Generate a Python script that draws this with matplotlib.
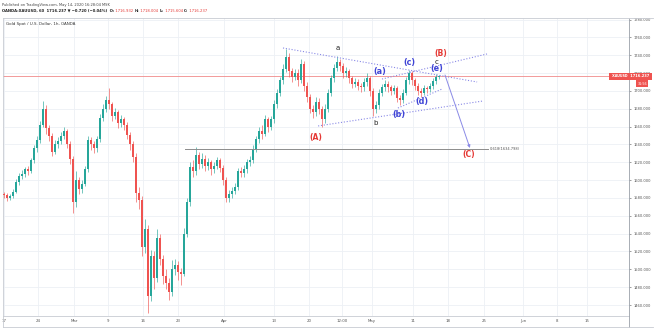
import matplotlib
matplotlib.use("Agg")
import matplotlib.pyplot as plt
from matplotlib.lines import Line2D
import matplotlib.transforms as mtransforms

# ---------------- DATA ----------------
first_open = 1584.0
closes = [1583, 1580, 1582, 1587, 1598, 1605, 1607, 1612, 1610, 1622,
          1636, 1645, 1662, 1680, 1658, 1650, 1632, 1641, 1644, 1650,
          1655, 1641, 1624, 1575, 1600, 1590, 1596, 1612, 1645, 1640,
          1636, 1646, 1670, 1680, 1690, 1685, 1672, 1676, 1664, 1668,
          1662, 1651, 1640, 1626, 1585, 1578, 1525, 1545, 1470, 1515,
          1490, 1535, 1512, 1492, 1485, 1475, 1500, 1505, 1497, 1495,
          1540, 1575, 1615, 1610, 1628, 1618, 1624, 1616, 1620, 1612,
          1616, 1622, 1614, 1600, 1580, 1584, 1588, 1592, 1610, 1608,
          1612, 1620, 1622, 1635, 1646, 1655, 1652, 1668, 1660, 1668,
          1685, 1698, 1712, 1725, 1738, 1722, 1716, 1720, 1712, 1730,
          1706, 1693, 1680, 1676, 1688, 1680, 1668, 1680, 1698, 1714,
          1726, 1732, 1728, 1720, 1722, 1714, 1708, 1710, 1706, 1704,
          1710, 1714, 1700, 1680, 1684, 1698, 1704, 1708, 1704, 1700,
          1703, 1692, 1690, 1698, 1712, 1720, 1712, 1706, 1700, 1698,
          1703, 1702, 1705, 1711, 1716, 1716.237]
highs = [1587, 1585, 1584, 1590, 1601, 1608, 1611, 1615, 1616, 1625,
         1639, 1649, 1666, 1689, 1684, 1662, 1653, 1645, 1648, 1654,
         1660, 1657, 1644, 1627, 1610, 1604, 1600, 1616, 1650, 1648,
         1644, 1650, 1674, 1685, 1694, 1703, 1688, 1681, 1679, 1673,
         1671, 1665, 1654, 1644, 1630, 1592, 1582, 1556, 1550, 1522,
         1520, 1545, 1540, 1516, 1500, 1490, 1510, 1512, 1509, 1502,
         1546, 1580, 1620, 1622, 1637, 1632, 1630, 1628, 1625, 1623,
         1620, 1626, 1625, 1617, 1603, 1589, 1592, 1597, 1614, 1615,
         1617, 1624, 1627, 1639, 1650, 1660, 1662, 1673, 1671, 1672,
         1690, 1702, 1716, 1730, 1747, 1742, 1726, 1725, 1724, 1736,
         1733, 1710, 1697, 1684, 1693, 1692, 1683, 1685, 1702, 1718,
         1730, 1739, 1736, 1731, 1727, 1725, 1717, 1714, 1713, 1709,
         1714, 1720, 1717, 1703, 1689, 1702, 1708, 1712, 1711, 1707,
         1707, 1705, 1695, 1702, 1716, 1723, 1722, 1715, 1709, 1703,
         1707, 1706, 1709, 1714, 1719, 1718]
lows = [1580, 1577, 1578, 1580, 1585, 1595, 1601, 1604, 1606, 1608,
        1619, 1632, 1642, 1659, 1652, 1644, 1627, 1629, 1636, 1640,
        1646, 1636, 1618, 1563, 1570, 1584, 1586, 1593, 1609, 1634,
        1630, 1632, 1643, 1666, 1676, 1680, 1666, 1668, 1658, 1660,
        1656, 1646, 1634, 1620, 1576, 1568, 1515, 1518, 1451, 1465,
        1478, 1486, 1505, 1484, 1478, 1466, 1470, 1494, 1488, 1482,
        1492, 1536, 1571, 1603, 1606, 1612, 1614, 1610, 1611, 1606,
        1608, 1612, 1609, 1595, 1575, 1576, 1580, 1584, 1589, 1603,
        1604, 1608, 1616, 1619, 1631, 1642, 1646, 1649, 1654, 1656,
        1664, 1681, 1694, 1708, 1721, 1716, 1710, 1712, 1706, 1709,
        1700, 1688, 1675, 1670, 1672, 1674, 1659, 1664, 1676, 1694,
        1710, 1722, 1722, 1715, 1716, 1709, 1703, 1704, 1701, 1699,
        1700, 1706, 1694, 1672, 1675, 1680, 1694, 1700, 1699, 1695,
        1696, 1687, 1684, 1686, 1695, 1708, 1707, 1701, 1695, 1693,
        1695, 1698, 1699, 1702, 1708, 1713]
last_price = 1716.237
fib_level = 1634.798

x_tick_labels = ["17", "24", "Mar", "9", "16", "23", "Apr", "13", "20",
                 "12:00", "May", "11", "18", "25", "Jun", "8", "15"]
y_ticks = [1460, 1480, 1500, 1520, 1540, 1560, 1580, 1600, 1620, 1640,
           1660, 1680, 1700, 1720, 1740, 1760, 1780]

# drawings (bar index, price)
upper_line = ([93.0, 157.7], [1748.1, 1710.0])
lower_line = ([104.7, 159.7], [1660.7, 1688.7])
channel_top = ([126.0, 161.0], [1713.3, 1741.4])
channel_bottom = ([131.3, 146.0], [1680.8, 1702.1])
arrow_from = (147.0, 1717.8)
arrow_to = (155.3, 1636.0)
fib_start = 60.3
fib_end = 161.3

black_labels = [("a", 111.3, 1748.0), ("b", 124.0, 1664.0), ("c", 144.3, 1732.4)]
red_labels = [("(A)", 104.0, 1648.3), ("(B)", 145.7, 1741.4), ("(C)", 155.0, 1628.2)]
blue_labels = [("(a)", 125.3, 1721.2), ("(b)", 131.7, 1674.1), ("(c)", 135.3, 1731.3),
               ("(d)", 139.3, 1687.6), ("(e)", 144.3, 1724.6)]

# ---------------- LAYOUT ----------------
W, H = 654, 328
plt.rcParams['font.family'] = ['DejaVu Sans']
fig = plt.figure(figsize=(W / 100, H / 100), dpi=100)
fig.patch.set_facecolor("white")

ax_l, ax_r, ax_t, ax_b = 3, 629, 18, 316
ax = fig.add_axes([ax_l / W, 1 - ax_b / H, (ax_r - ax_l) / W, (ax_b - ax_t) / H])
ax.set_xlim(-1 / 3, (ax_r - 4) / 3)
ax.set_ylim(1447.7, 1781.7)

x_tick_pos = [0, 11.33, 23.33, 34.67, 46.33, 58, 73.33, 90, 101.67, 112.67,
              122.67, 136.33, 148, 160, 173, 184.33, 194.33]

grid_c = "#edf0f5"
for xp in x_tick_pos:
    ax.axvline(xp, color=grid_c, lw=0.6, zorder=0)
for yp in y_ticks:
    ax.axhline(yp, color=grid_c, lw=0.6, zorder=0)

up_c, dn_c = "#26a69a", "#ef5350"
opens = [first_open] + closes[:-1]
xs = list(range(len(closes)))
cols = [up_c if c >= o else dn_c for o, c in zip(opens, closes)]
ax.vlines(xs, lows, highs, colors=cols, lw=0.45, zorder=2)
ax.bar(xs, [c - o if abs(c - o) > 0.6 else 0.6 for o, c in zip(opens, closes)],
       bottom=opens, width=0.4, color=cols, lw=0, zorder=3)

# price line
ax.axhline(last_price, color="#f08a8a", lw=0.6, zorder=1)

# fib line
ax.plot([fib_start, fib_end], [fib_level, fib_level], color="#8c8c8c", lw=0.7, zorder=4)
ax.text(fib_end + 0.7, fib_level, "0.618(1634.798)", fontsize=2.6, color="#555555",
        va="center", ha="left", zorder=5)

tl_c = "#8a8ae6"
for ln in (upper_line, lower_line, channel_top, channel_bottom):
    ax.plot(ln[0], ln[1], color=tl_c, lw=0.8, ls=(0, (1, 1.6)), zorder=4)
ax.annotate("", xy=arrow_to, xytext=arrow_from,
            arrowprops=dict(arrowstyle="-|>", color=tl_c, lw=0.7,
                            mutation_scale=4, shrinkA=0, shrinkB=0), zorder=5)

for t, x, y in black_labels:
    ax.text(x, y, t, fontsize=5, color="#222222", ha="center", va="center", zorder=6)
for t, x, y in red_labels:
    ax.text(x, y, t, fontsize=5.5, color="#e53935", ha="center", va="center",
            fontweight="bold", zorder=6)
for t, x, y in blue_labels:
    ax.text(x, y, t, fontsize=5.8, color="#3f44d6", ha="center", va="center",
            fontweight="bold", zorder=6)

# axes styling
for s in ("left", "top", "bottom"):
    ax.spines[s].set_color("#c8cbd2")
    ax.spines[s].set_linewidth(0.6)
ax.spines["right"].set_color("#9aa0a8")
ax.spines["right"].set_linewidth(0.6)
ax.yaxis.tick_right()
ax.set_yticks(y_ticks)
ax.set_yticklabels([f"{v:.3f}" for v in y_ticks])
ax.tick_params(axis="y", labelsize=2.6, colors="#555555", length=1.5, width=0.4, pad=1.5)
ax.set_xticks(x_tick_pos)
ax.set_xticklabels(x_tick_labels)
ax.tick_params(axis="x", labelsize=2.8, colors="#555555", length=0, pad=2.5)

# outer frame parts
fig.add_artist(Line2D([ax_r / W, ax_r / W], [0, 1 - ax_b / H], color="#9aa0a8", lw=0.6))
fig.add_artist(Line2D([ax_l / W, 653 / W], [1 - 327 / H, 1 - 327 / H], color="#c8cbd2", lw=0.6))
fig.add_artist(Line2D([ax_r / W, 653 / W], [1 - ax_t / H, 1 - ax_t / H], color="#c8cbd2", lw=0.6))
fig.add_artist(Line2D([ax_l / W, ax_l / W], [1 - 327 / H, 1 - ax_b / H], color="#c8cbd2", lw=0.6))

# price tags
blend = mtransforms.blended_transform_factory(ax.transAxes, ax.transData)
ax.text(1.0, last_price, " 1716.237 ", transform=blend, fontsize=2.6, color="white",
        ha="left", va="center", fontweight="bold", zorder=10, clip_on=False,
        bbox=dict(boxstyle="square,pad=0.5", fc="#ef5350", ec="none"))
ax.text(0.999, last_price, " XAUUSD ", transform=blend, fontsize=2.4, color="white",
        ha="right", va="center", fontweight="bold", zorder=10, clip_on=False,
        bbox=dict(boxstyle="square,pad=0.5", fc="#ef5350", ec="none"))
ax.text(1.021, last_price - 8.0, "31:56", transform=blend, fontsize=2.4, color="white",
        ha="center", va="center", zorder=10, clip_on=False,
        bbox=dict(boxstyle="square,pad=0.4", fc="#ef5350", ec="none"))

# header
fig.text(2 / W, 1 - 5 / H, "Published on TradingView.com, May 14, 2020 16:28:04 MSK",
         fontsize=2.6, color="#444444", va="center", ha="left")
fig.canvas.draw()
renderer = fig.canvas.get_renderer()
parts = [("OANDA:XAUUSD, 60  1716.237 \u25bc \u22120.720 (\u22120.04%)  O:", "#222222"),
         (" 1716.932 ", "#e53935"), ("H:", "#222222"), (" 1718.004 ", "#e53935"),
         ("L:", "#222222"), (" 1715.604 ", "#e53935"), ("C:", "#222222"),
         (" 1716.237", "#e53935")]
xcur = 2
for txt, col in parts:
    t = fig.text(xcur / W, 1 - 10.5 / H, txt, fontsize=2.7, color=col, va="center",
                 ha="left", fontweight="bold" if col == "#222222" else "normal")
    bb = t.get_window_extent(renderer)
    xcur += bb.width
fig.text(6 / W, 1 - 23.5 / H, "Gold Spot / U.S. Dollar, 1h, OANDA", fontsize=2.9,
         color="#333333", va="center", ha="left")

fig.savefig("out.png", dpi=100)
